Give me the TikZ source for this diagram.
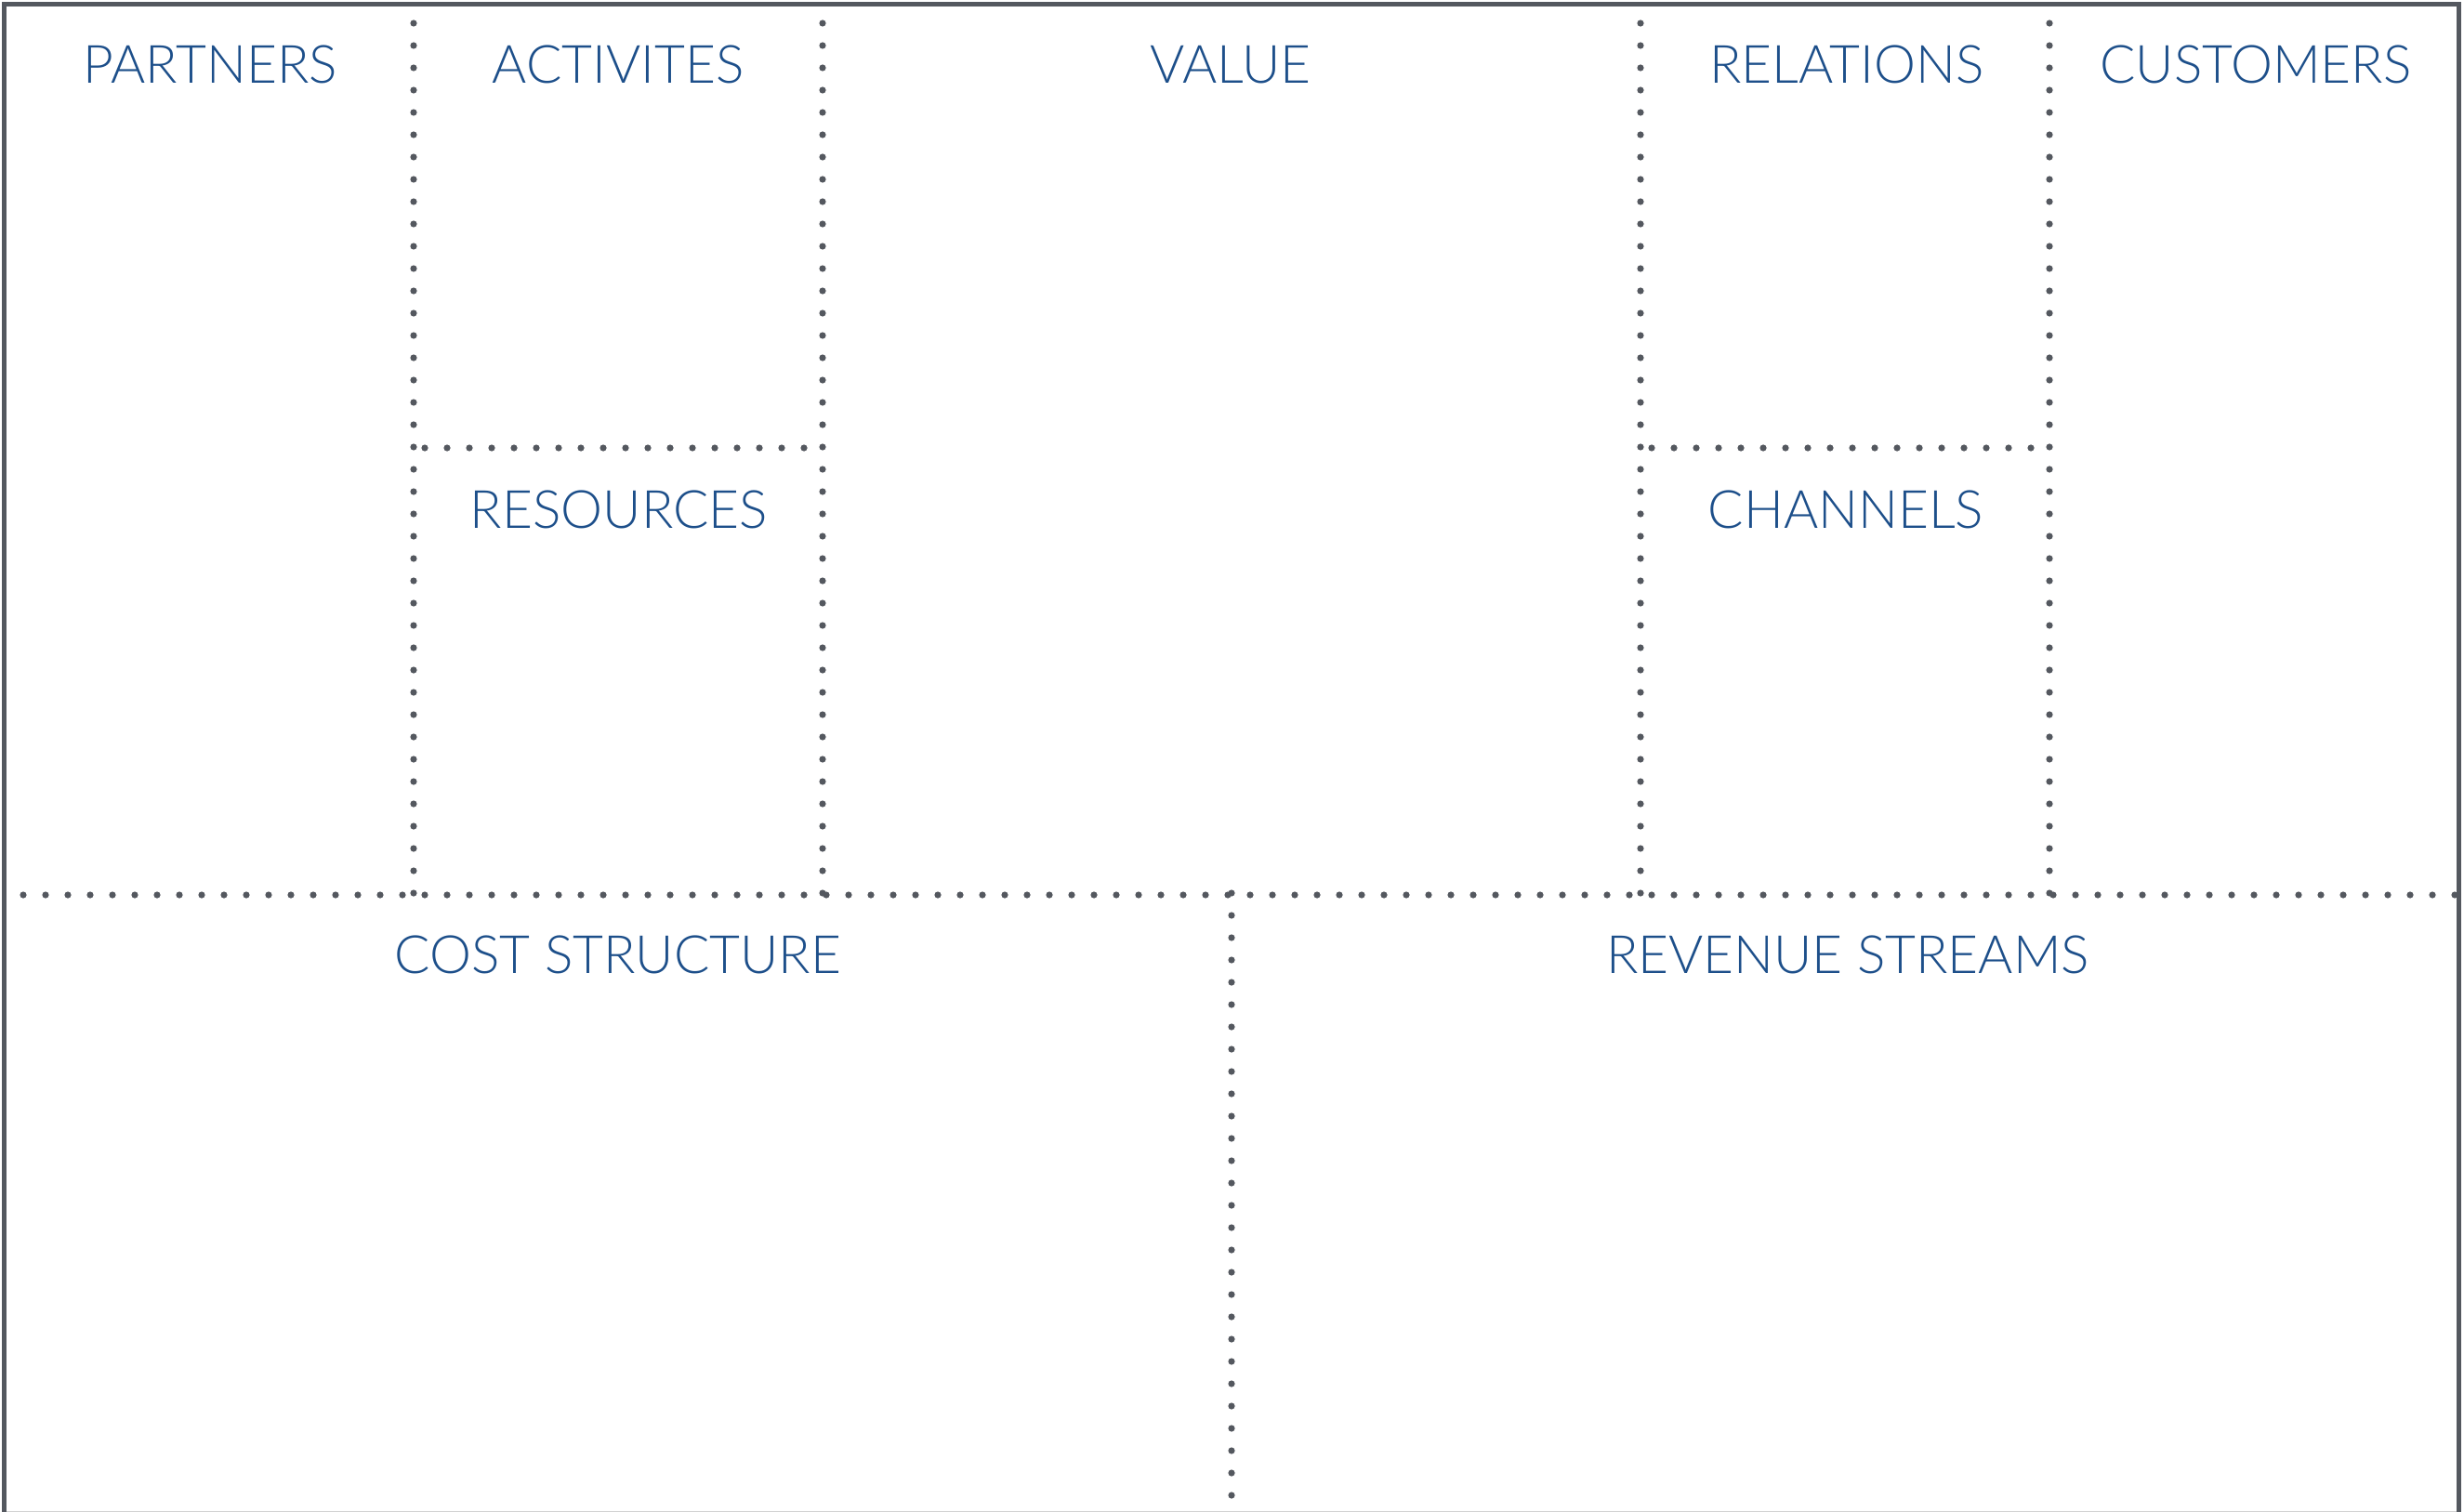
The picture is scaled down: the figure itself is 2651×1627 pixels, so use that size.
\documentclass[tikz,border=0pt]{standalone}
\usepackage{fontspec}
\newfontfamily\latlight{Lato}[UprightFont=* Light]
\definecolor{dotgray}{HTML}{54585F}
\definecolor{titleblue}{HTML}{1D4F8A}
\definecolor{edgegray}{HTML}{D2D2D2}
\begin{document}
\begin{tikzpicture}[x=0.5pt,y=-0.5pt,
  frame/.style={draw=dotgray,line width=2.5pt},
  dotline/.style={draw=dotgray,line width=3.6pt,line cap=round,dash pattern=on 0pt off 12pt},
  title/.style={anchor=base,text=titleblue,inner sep=0pt,font=\latlight\fontsize{28.4pt}{30pt}\selectfont}]
\useasboundingbox (0,0) rectangle (2651,1627);
% outer frame (bottom edge cut off)
\draw[frame] (4.5,1640) -- (4.5,4.5) -- (2645.5,4.5) -- (2645.5,1640);
\draw[edgegray,line width=0.6pt] (7,1626.3) -- (2643,1626.3);
% dotted grid
\coordinate (hL) at (25,963);
\coordinate (hR) at (2641,963);
\draw[dotline] (hL) -- (hR);
\foreach \x/\n in {445/a,885/b,1765/c,2205/d}{
  \coordinate (\n t) at (\x,25);
  \coordinate (\n b) at (\x,961);
  \draw[dotline] (\n t) -- (\n b);
}
\coordinate (m1l) at (457,482);
\coordinate (m1r) at (865,482);
\draw[dotline] (m1l) -- (m1r);
\coordinate (m2l) at (1777,482);
\coordinate (m2r) at (2185,482);
\draw[dotline] (m2l) -- (m2r);
\coordinate (vt) at (1325,961);
\coordinate (vb) at (1325,1609);
\draw[dotline] (vt) -- (vb);
% titles
\node[title] (partners) at (226,90) {PARTNERS};
\node[title] (activites) at (665,90) {ACTIVITES};
\node[title] (value) at (1324,90) {VALUE};
\node[title] (relations) at (1987,90) {RELATIONS};
\node[title] (customers) at (2427,90) {CUSTOMERS};
\node[title] (resources) at (666,568) {RESOURCES};
\node[title] (channels) at (1986,568) {CHANNELS};
\node[title] (cost) at (665,1047) {COST STRUCTURE};
\node[title] (revenue) at (1988,1047) {REVENUE STREAMS};
\end{tikzpicture}
\end{document}
